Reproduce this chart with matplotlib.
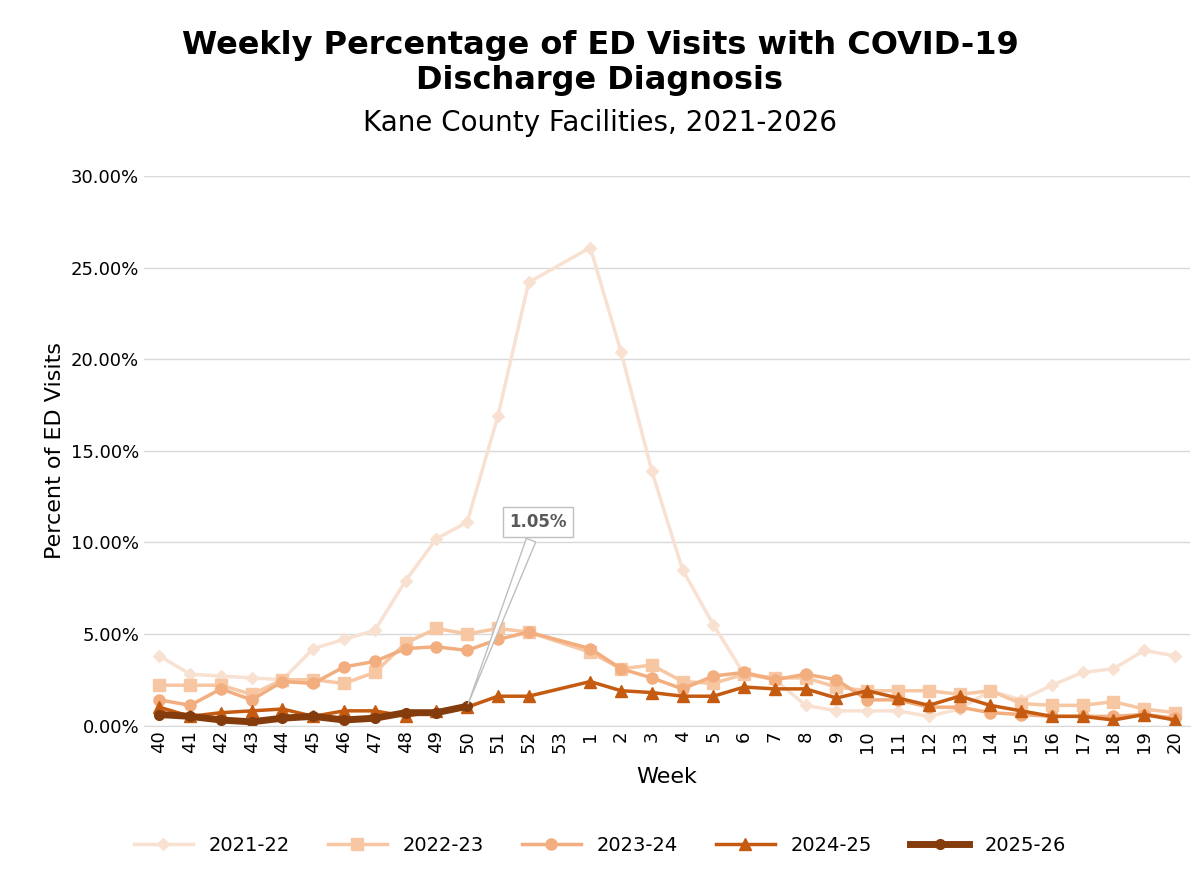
import numpy as np
import matplotlib.pyplot as plt
from matplotlib.ticker import FuncFormatter

weeks = [str(w) for w in list(range(40, 54)) + list(range(1, 21))]
nan = np.nan
s2122 = [3.8, 2.8, 2.7, 2.6, 2.5, 4.2, 4.7, 5.2, 7.9, 10.2, 11.1, 16.9, 24.2, nan, 26.1, 20.4, 13.9, 8.5, 5.5, 2.8,
         2.5, 1.1, 0.8, 0.8, 0.8, 0.5, 0.9, 1.9, 1.4, 2.2, 2.9, 3.1, 4.1, 3.8]
s2223 = [2.2, 2.2, 2.2, 1.7, 2.5, 2.5, 2.3, 2.9, 4.5, 5.3, 5.0, 5.3, 5.1, nan, 4.0, 3.1, 3.3, 2.4, 2.3, 2.8,
         2.6, 2.6, 2.1, 1.9, 1.9, 1.9, 1.7, 1.9, 1.2, 1.1, 1.1, 1.3, 0.9, 0.7]
s2324 = [1.4, 1.1, 2.0, 1.4, 2.4, 2.3, 3.2, 3.5, 4.2, 4.3, 4.1, 4.7, 5.1, nan, 4.2, 3.1, 2.6, 2.0, 2.7, 2.9,
         2.5, 2.8, 2.5, 1.4, 1.4, 1.0, 1.0, 0.7, 0.6, 0.5, 0.5, 0.5, 0.6, 0.4]
s2425 = [1.0, 0.5, 0.7, 0.8, 0.9, 0.5, 0.8, 0.8, 0.5, 0.8, 1.0, 1.6, 1.6, nan, 2.4, 1.9, 1.8, 1.6, 1.6, 2.1,
         2.0, 2.0, 1.5, 1.9, 1.5, 1.1, 1.6, 1.1, 0.8, 0.5, 0.5, 0.3, 0.6, 0.3]
s2526 = [0.6, 0.5, 0.3, 0.2, 0.4, 0.5, 0.3, 0.4, 0.7, 0.7, 1.05]

series = [
    ("2021-22", s2122, "#F9E1D2", "D", 2.5, 6),
    ("2022-23", s2223, "#F7C7A4", "s", 2.5, 8),
    ("2023-24", s2324, "#F2AE7F", "o", 2.5, 8),
    ("2024-25", s2425, "#C55A11", "^", 2.5, 8),
    ("2025-26", s2526, "#843C0C", "o", 5, 7),
]

fig = plt.figure(figsize=(12, 8.72), dpi=100)
ax = fig.add_axes([0.12, 0.168, 0.872, 0.63])
for name, vals, col, mk, lw, ms in series:
    v = np.array(vals, dtype=float)
    x = np.arange(len(v))
    ok = ~np.isnan(v)
    ax.plot(x[ok], v[ok], color=col, marker=mk, lw=lw, ms=ms, label=name)

ax.set_xlim(-0.5, len(weeks) - 0.5)
ax.set_ylim(0, 30)
ax.set_yticks(np.arange(0, 31, 5))
ax.yaxis.set_major_formatter(FuncFormatter(lambda v, p: f"{v:.2f}%"))
ax.set_xticks(range(len(weeks)))
ax.set_xticklabels(weeks, rotation=90, fontsize=13)
ax.tick_params(axis='y', labelsize=13, length=0)
ax.tick_params(axis='x', length=0)
ax.grid(axis='y', color='#D9D9D9', lw=1)
ax.set_axisbelow(True)
for s in ['top', 'right', 'left']:
    ax.spines[s].set_visible(False)
ax.spines['bottom'].set_color('#D9D9D9')
ax.set_xlabel("Week", fontsize=16, labelpad=10)
ax.set_ylabel("Percent of ED Visits", fontsize=16)

ax.annotate("1.05%", xy=(10, 1.05), xytext=(12.3, 11.1), fontsize=12, fontweight='bold', color='#595959',
            ha='center', va='center',
            bbox=dict(boxstyle='square,pad=0.35', fc='white', ec='#BFBFBF'),
            arrowprops=dict(arrowstyle='wedge,tail_width=0.6', fc='white', ec='#BFBFBF'))

fig.text(0.5, 0.928, "Weekly Percentage of ED Visits with COVID-19\nDischarge Diagnosis", ha='center', va='center',
         fontsize=23, fontweight='bold', linespacing=1.15)
fig.text(0.5, 0.859, "Kane County Facilities, 2021-2026", ha='center', va='center', fontsize=20)
fig.legend(loc='lower center', ncol=5, frameon=False, fontsize=14, bbox_to_anchor=(0.5, 0.0),
           handlelength=3, columnspacing=2)
fig.savefig("out.png")
